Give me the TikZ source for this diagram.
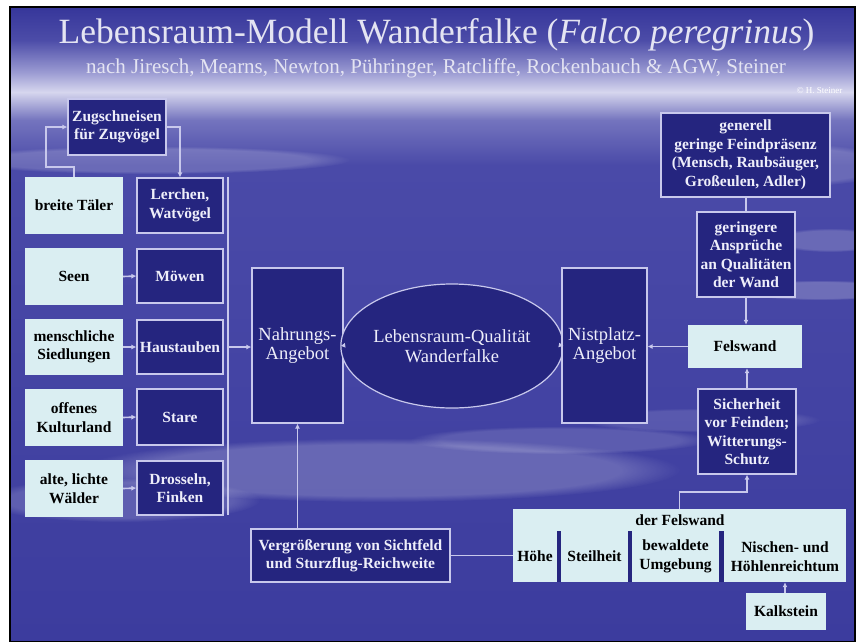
\documentclass[tikz,border=0pt]{standalone}
\usepackage{fontspec}
\setmainfont{Liberation Serif}
\usetikzlibrary{arrows.meta,fadings,shapes.geometric}
\definecolor{navy}{HTML}{25257F}
\definecolor{edgec}{HTML}{C8C8EC}
\definecolor{pale}{HTML}{DAEEF2}
\definecolor{txtw}{HTML}{EEEEFA}
\definecolor{ttl}{HTML}{E4E4F2}
\definecolor{bgA}{HTML}{36369A}
\definecolor{bgB}{HTML}{4C4CA8}
\definecolor{bgC}{HTML}{9A9AD2}
\definecolor{bgD}{HTML}{D6D6EE}
\definecolor{bgE}{HTML}{7474BE}
\definecolor{bgF}{HTML}{4A4AA8}
\definecolor{bgG}{HTML}{3C3C9E}
\newcommand\hsboxfont{\fontsize{15.5}{18.5}\selectfont\bfseries}
\newcommand\hsbigfont{\fontsize{18.5}{19.5}\selectfont}
\begin{document}
\begin{tikzpicture}[x=1pt,y=-1pt,
  dbox/.style={draw=edgec, line width=1.2pt, fill=navy, text=txtw, font=\hsboxfont, align=center, inner sep=1pt},
  lbox/.style={fill=pale, text=black, font=\hsboxfont, align=center, inner sep=1pt},
  cbox/.style={dbox, font=\hsbigfont},
  cell/.style={text=black, font=\hsboxfont, align=center, inner sep=0pt, minimum height=51pt},
  conn/.style={draw=edgec, line width=1.6pt},
  arr/.style={conn, -{Latex[length=5pt,width=5pt]}},
  cloud/.style={white, path fading=circle with fuzzy edge 20 percent}]
\useasboundingbox (0,0) rectangle (858,641);
\fill[white] (0,0) rectangle (858,641);
% background
\shade[top color=bgA, bottom color=bgB] (10,7) rectangle (855,40);
\shade[top color=bgB, bottom color=bgC] (10,40) rectangle (855,72);
\shade[top color=bgC, bottom color=bgD] (10,72) rectangle (855,92);
\shade[top color=bgD, bottom color=bgE] (10,92) rectangle (855,120);
\shade[top color=bgE, bottom color=bgF] (10,120) rectangle (855,165);
\shade[top color=bgF, bottom color=bgG] (10,165) rectangle (855,641);
% clouds
\begin{scope}
\clip (10,7) rectangle (855,641);
\fill[cloud, opacity=0.18] (150,160) ellipse (200 and 14);
\fill[cloud, opacity=0.18] (780,165) ellipse (120 and 22);
\fill[cloud, opacity=0.22] (820,290) ellipse (90 and 10);
\fill[cloud, opacity=0.18] (830,240) ellipse (60 and 12);
\fill[cloud, opacity=0.2] (380,470) ellipse (300 and 32);
\fill[cloud, opacity=0.14] (560,440) ellipse (150 and 14);
\fill[cloud, opacity=0.16] (120,500) ellipse (140 and 22);
\fill[cloud, opacity=0.12] (700,420) ellipse (120 and 12);
\end{scope}
\draw[black, line width=2pt] (10,7) rectangle (855,642);
% titles
\node[anchor=base, text=ttl, font=\fontsize{35.5}{40}\selectfont] (title) at (436.5,43) {Lebensraum-Modell Wanderfalke (\textit{Falco peregrinus})};
\node[anchor=base, text=ttl, font=\fontsize{21}{24}\selectfont] (sub) at (436,73) {nach Jiresch, Mearns, Newton, Pühringer, Ratcliffe, Rockenbauch \& AGW, Steiner};
\node[anchor=base east, text=white, font=\fontsize{9}{10}\selectfont] (copy) at (846,93) {© H. Steiner};
% left column
\node[dbox, minimum width=98pt, minimum height=56pt] (zug) at (117,127) {Zugschneisen\\für Zugvögel};
\node[lbox, minimum width=98pt, minimum height=57pt] (tal) at (74,205.5) {breite Täler};
\node[dbox, minimum width=86pt, minimum height=55pt] (ler) at (180,205.5) {Lerchen,\\Watvögel};
\node[lbox, minimum width=98pt, minimum height=57pt] (see) at (74,276.5) {Seen};
\node[dbox, minimum width=86pt, minimum height=54pt] (mow) at (180,276) {Möwen};
\node[lbox, minimum width=98pt, minimum height=56pt] (mens) at (74,347) {menschliche\\Siedlungen};
\node[dbox, minimum width=86pt, minimum height=54pt] (haus) at (180,347) {Haustauben};
\node[lbox, minimum width=98pt, minimum height=57pt] (off) at (74,417.5) {offenes\\Kulturland};
\node[dbox, minimum width=86pt, minimum height=56pt] (star) at (180,417) {Stare};
\node[lbox, minimum width=98pt, minimum height=57pt] (alt) at (74,488.5) {alte, lichte\\Wälder};
\node[dbox, minimum width=86pt, minimum height=54pt] (dros) at (180,488) {Drosseln,\\Finken};
\coordinate (ctop) at (228,177);
\coordinate (cbot) at (228,515);
\coordinate (cmid) at (228,347);
% centre
\node[cbox, minimum width=91pt, minimum height=155pt] (nahr) at (297.5,345.5) {Nahrungs-\\Angebot};
\node[cbox, ellipse, minimum width=178pt, minimum height=124pt, inner sep=0pt] (ell) at (452,346) {Lebensraum-Qualität\\Wanderfalke};
\node[cbox, minimum width=85pt, minimum height=155pt] (nist) at (604.5,345.5) {Nistplatz-\\Angebot};
% right column
\node[dbox, minimum width=169pt, minimum height=84pt] (gen) at (745.5,155) {generell\\geringe Feindpräsenz\\(Mensch, Raubsäuger,\\Großeulen, Adler)};
\node[dbox, minimum width=98pt, minimum height=85pt] (ger) at (746,254.5) {geringere\\Ansprüche\\an Qualitäten\\der Wand};
\node[lbox, minimum width=114pt, minimum height=43pt] (fels) at (745,346.5) {Felswand};
\node[dbox, minimum width=98pt, minimum height=85pt] (sich) at (747,431.5) {Sicherheit\\vor Feinden;\\Witterungs-\\Schutz};
% bottom
\node[dbox, minimum width=199pt, minimum height=53pt] (verg) at (350.5,555.5) {Vergrößerung von Sichtfeld\\und Sturzflug-Reichweite};
\node[fill=pale, minimum width=333pt, minimum height=73pt, inner sep=0pt] (fw) at (679.5,545.5) {};
\fill[navy] (557,531) rectangle (561,582);
\fill[navy] (628,531) rectangle (632,582);
\fill[navy] (719,531) rectangle (724,582);
\node[text=black, font=\hsboxfont] (fwh) at (680,520) {der Felswand};
\node[cell, minimum width=44pt] (hoehe) at (535,556.5) {Höhe};
\node[cell, minimum width=67pt] (steil) at (594.5,556.5) {Steilheit};
\node[cell, minimum width=87pt] (bew) at (675.5,556.5) {bewaldete\\Umgebung};
\node[cell, minimum width=122pt] (nisch) at (785,556.5) {Nischen- und\\Höhlenreichtum};
\node[lbox, minimum width=80pt, minimum height=37pt] (kalk) at (786,611.5) {Kalkstein};
% connectors
\draw[arr] (tal.north) -- ++(0,-10) -| (46,127) -- (zug.west);
\draw[arr] (zug.east) -| (ler.north);
\draw[arr] (see.east) -- (mow.west);
\draw[arr] (mens.east) -- (haus.west);
\draw[arr] (off.east) -- (star.west);
\draw[arr] (alt.east) -- (dros.west);
\draw[conn] (ctop) -- (cbot);
\draw[arr] (cmid) -- (cmid -| nahr.west);
\draw[arr] (nahr.east) -- (ell.west);
\draw[arr] (nist.west) -- (ell.east);
\draw[arr] (fels.west) -- (fels.west -| nist.east);
\draw[conn] (gen.south -| ger.north) -- (ger.north);
\draw[arr] (ger.south) -- (ger.south |- fels.north);
\draw[arr] (sich.north) -- (sich.north |- fels.south);
\draw[arr] (fw.north) -- ++(0,-17) -| (sich.south);
\draw[arr] (verg.north -| nahr.south) -- (nahr.south);
\draw[conn] (verg.east) -- (verg.east -| hoehe.west);
\draw[arr] (kalk.north -| nisch.south) -- (nisch.south);
\end{tikzpicture}
\end{document}
